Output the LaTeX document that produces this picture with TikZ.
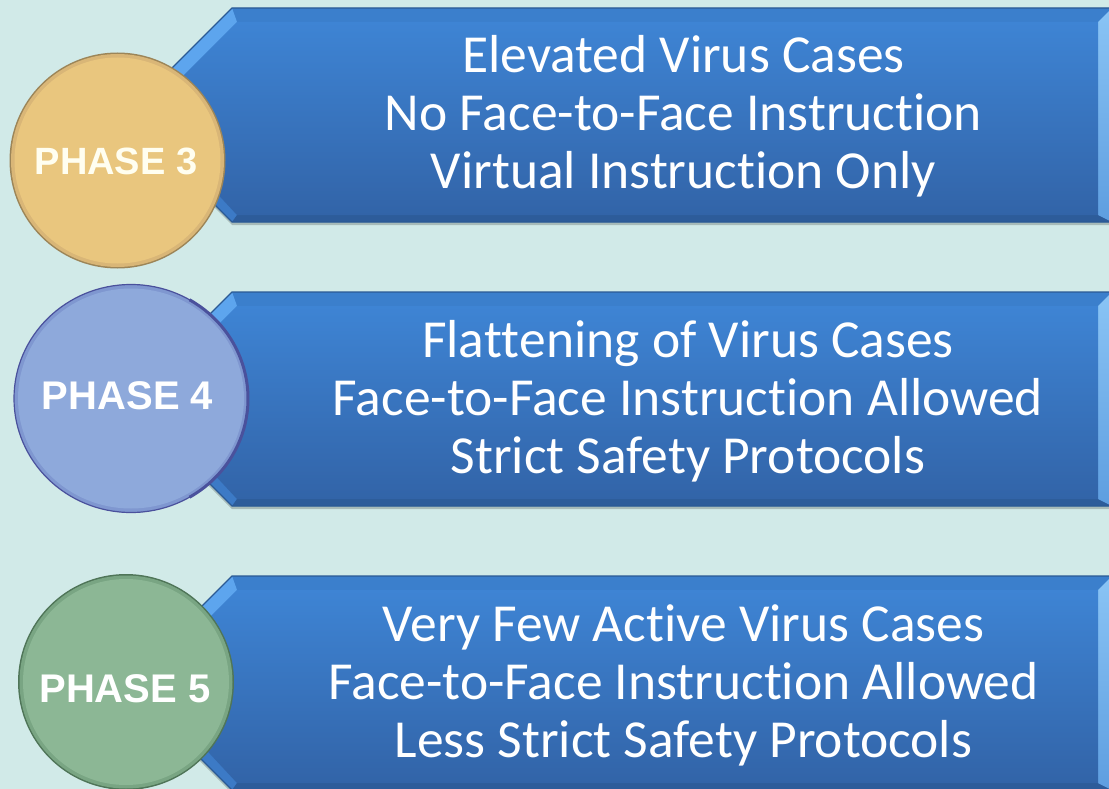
\documentclass[tikz,border=0pt]{standalone}
\usepackage{fontspec}
\setmainfont{Carlito}[RawFeature={-liga;-clig;-dlig;-calt}]
\newfontfamily\phasefont{Liberation Sans}
\newcommand{\nolig}{\kern0pt\relax}
\definecolor{bg}{HTML}{D1EAE8}
\definecolor{bnedge}{HTML}{3B7FCC}
\definecolor{bnlight}{HTML}{5DA5EE}
\definecolor{bnlow}{HTML}{3C7AC6}
\definecolor{bnbot}{HTML}{2D5C9A}
\definecolor{bnrightA}{HTML}{8AC4F5}
\definecolor{bnrightB}{HTML}{5E9EE0}
\definecolor{bninA}{HTML}{3E84D4}
\definecolor{bninB}{HTML}{3264A8}
\definecolor{bnline}{HTML}{2B5A94}
\definecolor{goldfill}{HTML}{E9C67E}
\definecolor{goldring}{HTML}{D9B677}
\definecolor{goldline}{HTML}{9C8558}
\definecolor{bluefill}{HTML}{8EA9DB}
\definecolor{bluering}{HTML}{7F97D0}
\definecolor{blueline}{HTML}{4A519C}
\definecolor{greenfill}{HTML}{8CB795}
\definecolor{greenring}{HTML}{79A583}
\definecolor{greenline}{HTML}{4F7558}
\tikzset{
  bntext/.style={text=white,font=\fontsize{53.5}{58}\selectfont,anchor=base,inner sep=0pt},
  phasetext/.style={text=white,font=\phasefont\bfseries,anchor=base,inner sep=0pt},
}
\newcommand{\mybanner}[2]{%
  \pgfmathsetmacro\bnT{#1}%
  \pgfmathsetmacro\bnB{#2}%
  \pgfmathsetmacro\bnM{(#1+#2)/2}%
  \pgfmathsetmacro\bnTip{232-(#2-#1)/2}%
  \pgfmathsetmacro\bnTi{#1+14}%
  \pgfmathsetmacro\bnBi{#2-7}%
  \pgfmathsetmacro\bnTipi{237-(\bnM-\bnTi)}%
  \fill[black,opacity=0.2] (232,\bnT+3) -- (1112,\bnT+3) -- (1112,\bnB+3) -- (232,\bnB+3) -- (\bnTip,\bnM+3) -- cycle;
  \fill[bnedge] (232,\bnT) -- (1112,\bnT) -- (1112,\bnB) -- (232,\bnB) -- (\bnTip,\bnM) -- cycle;
  \fill[bnlight] (232,\bnT) -- (237,\bnTi) -- (\bnTipi,\bnM) -- (\bnTip,\bnM) -- cycle;
  \fill[bnlow] (\bnTip,\bnM) -- (\bnTipi,\bnM) -- (237,\bnBi) -- (232,\bnB) -- cycle;
  \fill[bnbot] (237,\bnBi) -- (1098,\bnBi) -- (1112,\bnB) -- (232,\bnB) -- cycle;
  \shade[top color=bnrightA,bottom color=bnrightB] (1098,\bnTi) -- (1112,\bnT) -- (1112,\bnB) -- (1098,\bnBi) -- cycle;
  \shade[top color=bninA,bottom color=bninB] (237,\bnTi) -- (1098,\bnTi) -- (1098,\bnBi) -- (237,\bnBi) -- (\bnTipi,\bnM) -- cycle;
  \draw[bnline,line width=1.2] (232,\bnT) -- (1112,\bnT) -- (1112,\bnB) -- (232,\bnB) -- (\bnTip,\bnM) -- cycle;
}
\begin{document}
\begin{tikzpicture}[x=1pt,y=-1pt]
\fill[bg] (0,0) rectangle (1109,789);
\useasboundingbox (0,0) rectangle (1109,789);
\begin{scope}
\clip (0,0) rectangle (1109,789);
\mybanner{8}{222}
\mybanner{292}{506}
\mybanner{576}{790}
% circles
\fill[goldline] (117.5,160.5) circle (108);
\fill[goldring] (117.5,160.5) circle (106.5);
\fill[goldfill] (117.5,160.5) circle (103);
\fill[bluering] (131,398.5) ellipse (117 and 114);
\draw[blueline,line width=1.2] (131,398.5) ellipse (117 and 114);
\draw[blueline,line width=3] (131,398.5) ++(-60:117 and 114) arc[start angle=-60,end angle=60,x radius=117,y radius=114];
\fill[bluefill] (131,398.5) ellipse (113 and 110);
\fill[greenline] (126,682) circle (108);
\fill[greenring] (126,682) circle (106.5);
\fill[greenfill] (126,682) circle (103);
\end{scope}
% banner texts
\node[bntext] (b1a) at (683.5,73) {Elevated Virus Cases};
\node[bntext] (b1b) at (683.5,131) {No Face-to-Face Instruc\nolig tion};
\node[bntext] (b1c) at (683.5,189) {Virtual Instruc\nolig tion Only};
\node[bntext] (b2a) at (688,357) {Flat\nolig t\nolig ening of Virus Cases};
\node[bntext] (b2b) at (688,415) {Face-to-Face Instruc\nolig tion Allowed};
\node[bntext] (b2c) at (688,473) {Strict Safety Protocols};
\node[bntext] (b3a) at (683.5,641) {Very Few Ac\nolig t\nolig ive Virus Cases};
\node[bntext] (b3b) at (683.5,699) {Face-to-Face Instruc\nolig tion Allowed};
\node[bntext] (b3c) at (683.5,757) {Less Strict Safety Protocols};
% phase labels
\node[phasetext,font=\phasefont\bfseries\fontsize{38}{40}\selectfont,text=white!94!yellow] (p3) at (116,175) {PHASE 3};
\node[phasetext,font=\phasefont\bfseries\fontsize{40}{42}\selectfont] (p4) at (127.5,409) {PHASE 4};
\node[phasetext,font=\phasefont\bfseries\fontsize{40}{42}\selectfont] (p5) at (125,702) {PHASE 5};
\end{tikzpicture}
\end{document}
